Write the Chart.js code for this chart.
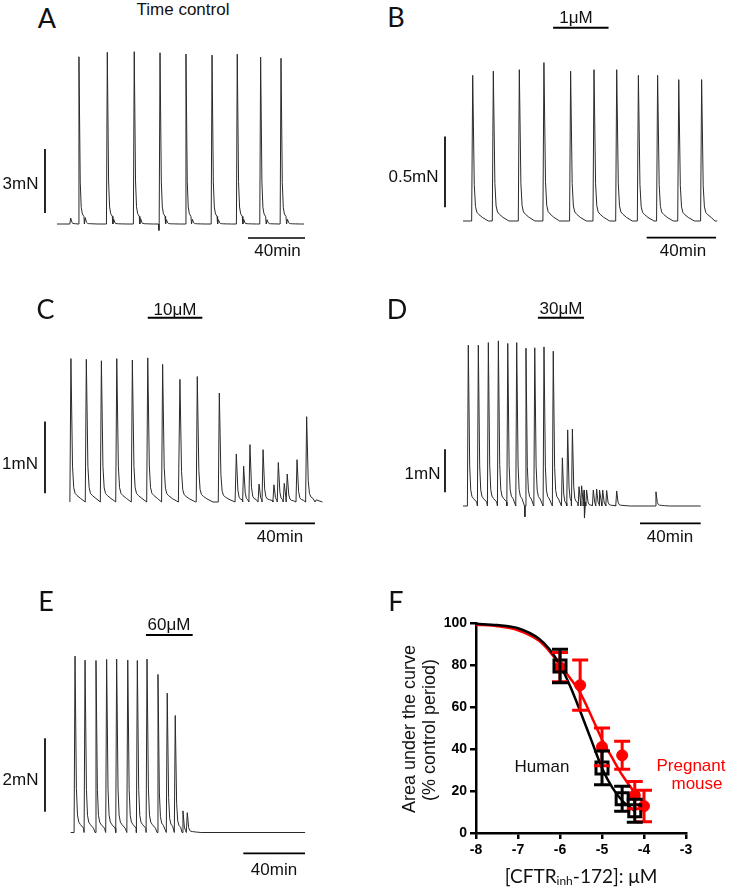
<!DOCTYPE html>
<html><head><meta charset="utf-8">
<script src="https://cdn.jsdelivr.net/npm/chart.js@4.4.1/dist/chart.umd.min.js"></script>
<style>
html,body{margin:0;padding:0;background:#fff;}
#fig{position:relative;width:733px;height:889px;overflow:hidden;background:#fff;}
.box{position:absolute;}
.t{position:absolute;white-space:nowrap;transform:translate(-50%,-50%);line-height:1;font-family:"Liberation Sans",Arial,sans-serif;font-size:17px;font-weight:400;color:#111;}
.L{font-family:Lato,"Open Sans",sans-serif;font-size:27px;}
.r{transform:translate(-50%,-50%) rotate(-90deg);font-size:18px;}
.red{color:#ff0000;}
sub{font-size:12px;vertical-align:-2px;line-height:0;}
</style></head><body><div id="fig"></div>
<script>
// ================= DATA =================
// Contraction traces: peak times (min from trace start) and peak amplitudes (mN above baseline)
const peakTimesA = [15.4, 35.3, 54.2, 72.3, 90.5, 108.8, 126.5, 142.9, 157.2];
const peakAmpsA  = [7.84, 8.05, 8.08, 8.03, 7.97, 7.92, 7.96, 7.82, 7.77];
const minorTimesA = [9.6, 19.8, 39.8, 58.7, 76.8, 95.0, 113.3, 131.0, 147.4, 161.7];
const minorAmpsA  = [0.28, 0.3, 0.22, 0.25, 0.2, 0.22, 0.2, 0.22, 0.2, 0.22];
const endA = 173.3;
const dipTimesA = [71.5];
const dipValuesA = [-0.3];

const peakTimesB = [5.6, 17.5, 32.5, 46.7, 62.1, 75.6, 88.7, 101.2, 112.3, 124.5, 137.7];
const peakAmpsB  = [1.03, 1.06, 1.07, 1.12, 1.06, 1.07, 1.07, 1.03, 1.03, 1.00, 1.00];
const endB = 145.4;
const drugB = [52, 84];

const peakTimesC = [1.1, 9.9, 18.5, 27.3, 36.2, 45.0, 53.5, 63.4, 73.3, 85.9, 95.6, 99.8, 103.4, 108.6, 110.9, 117.1, 119.6, 123.0, 124.7, 130.3, 135.8];
const peakAmpsC  = [2.0, 1.99, 1.97, 2.0, 1.98, 2.01, 1.92, 1.71, 1.75, 1.52, 0.67, 0.50, 0.80, 0.25, 0.73, 0.24, 0.55, 0.26, 0.39, 0.59, 1.19];
const endC = 140.6;
const drugC = [45, 76.2];

const peakTimesD = [3.5, 10.1, 16.7, 23.3, 29.5, 35.4, 41.5, 47.3, 53.4, 59.5, 65.5, 69.0, 72.1, 76.5, 78.2, 79.8, 81.5, 85.9, 88.1, 90.3, 92.1, 94.7, 101.3, 127.2];
const peakAmpsD  = [3.74, 3.74, 3.80, 3.84, 3.78, 3.80, 3.67, 3.68, 3.70, 3.60, 1.12, 1.77, 1.79, 0.45, 0.47, 0.37, 0.37, 0.37, 0.39, 0.37, 0.37, 0.36, 0.35, 0.33];
const endD = 156.7;
const drugD = [49.4, 79.8];
const dipTimesD = [40.8, 80.2];
const dipValuesD = [-0.25, -0.28];

const peakTimesE = [2.8, 9.3, 16.4, 23.3, 29.8, 37.0, 43.2, 49.5, 56.6, 62.6, 67.8, 72.8, 75.6];
const peakAmpsE  = [4.81, 4.70, 4.69, 4.72, 4.73, 4.70, 4.69, 4.73, 4.31, 3.80, 3.19, 0.59, 0.54];
const endE = 152;
const drugE = [48.8, 79.1];

// Scale bars
const forceBarA = 3, forceBarB = 0.5, forceBarC = 1, forceBarD = 1, forceBarE = 2; // mN
const timeBar = 40; // min

// Shape of a single contraction (offset in min from the peak, fraction of the peak)
const pulseOffsets = [-0.6, 0, 0.9, 1.6, 2.4, 3.5, 5.5, 9];
const pulseShape   = [0, 1, 0.25, 0.1, 0.06, 0.045, 0.025, 0];

// Panel F: concentration-response (log M)
const humanX   = [-6, -5, -4.52, -4.22];
const humanY   = [79.5, 31, 16.3, 10.6];
const humanSEM = [8, 8, 6, 5.5];
const mouseX   = [-6, -5.52, -5, -4.52, -4.22, -4];
const mouseY   = [79, 70.4, 41, 37, 18, 12.8];
const mouseSEM = [7, 12, 9, 6.7, 6.5, 7.5];
const humanCurveX = [-8, -7.5, -7, -6.5, -6.25, -6, -5.75, -5.5, -5.25, -5, -4.75, -4.5, -4.22];
const humanCurveY = [99.6, 99, 97.5, 92.5, 87.5, 80, 69.5, 57, 44, 31, 21.5, 15, 10.5];
const mouseCurveX = [-8, -7.5, -7, -6.5, -6.25, -6, -5.75, -5.5, -5.25, -5, -4.75, -4.5, -4.25, -4];
const mouseCurveY = [99.2, 98.5, 96.5, 91.5, 86.5, 80, 73.5, 66, 55.5, 44.5, 35.5, 27, 20, 14];
const xTicksF = [-8, -7, -6, -5, -4, -3];
const yTicksF = [0, 20, 40, 60, 80, 100];

// ================= LAYOUT =================
const fig = document.getElementById('fig');
const layout = {
  A:{box:[30,40,290,215], t0px:57, pxPerMin:1.425, y0px:224, pxPerUnit:21.33, vbar:{x:45,bottom:213}, hbar:{right:305,y:238}},
  B:{box:[430,15,300,240], t0px:463, pxPerMin:1.733, y0px:221, pxPerUnit:141.4, vbar:{x:445,bottom:207.3}, hbar:{right:716,y:237.7}, drugY:27.7},
  C:{box:[30,305,295,230], t0px:69, pxPerMin:1.75, y0px:502, pxPerUnit:71.7, vbar:{x:45,bottom:493.3}, hbar:{right:315,y:523.3}, drugY:317.7},
  D:{box:[430,305,290,230], t0px:463, pxPerMin:1.517, y0px:506, pxPerUnit:43, vbar:{x:445,bottom:492.3}, hbar:{right:700.7,y:523.3}, drugY:317.7},
  E:{box:[30,620,290,245], t0px:70.7, pxPerMin:1.542, y0px:832.5, pxPerUnit:36.67, vbar:{x:45,bottom:811.7}, hbar:{right:305,y:853.3}, drugY:635}
};

function makeBox(b){
  const d=document.createElement('div'); d.className='box';
  d.style.left=b[0]+'px'; d.style.top=b[1]+'px'; d.style.width=b[2]+'px'; d.style.height=b[3]+'px';
  const c=document.createElement('canvas'); d.appendChild(c); fig.appendChild(d); return c;
}

function buildTrace(t0, a0, tEnd, dipT, dipV, minT, minA){
  // merge main and minor contractions in time order
  const ev=t0.map((t,i)=>({t:t,a:a0[i]}));
  (minT||[]).forEach((t,i)=>ev.push({t:t,a:minA[i]}));
  ev.sort((p,q)=>p.t-q.t);
  const pts=[];
  for(let i=0;i<ev.length;i++){
    const limit = i<ev.length-1 ? ev[i+1].t+pulseOffsets[0] : Infinity;
    for(let k=0;k<pulseOffsets.length;k++){
      const t=ev[i].t+pulseOffsets[k];
      if(t<0) continue;
      if(t>=limit) break;
      pts.push({x:t,y:ev[i].a*pulseShape[k]});
    }
  }
  if(pts[0].x>0.8) pts.unshift({x:0,y:0});
  pts.push({x:tEnd,y:0});
  (dipT||[]).forEach((t,i)=>{pts.push({x:t-0.25,y:0}); pts.push({x:t,y:dipV[i]});});
  pts.sort((a,b)=>a.x-b.x);
  return pts;
}

const barsPlugin = {
  id:'bars',
  afterDatasetsDraw(chart, args, o){
    const ctx=chart.ctx, x=chart.scales.x, y=chart.scales.y;
    const L=o.lay.box[0], T=o.lay.box[1];
    ctx.save(); ctx.strokeStyle='#000'; ctx.lineCap='butt';
    const vlen = y.getPixelForValue(0) - y.getPixelForValue(o.force);
    ctx.lineWidth=1.7; ctx.beginPath();
    ctx.moveTo(o.lay.vbar.x-L, o.lay.vbar.bottom-T); ctx.lineTo(o.lay.vbar.x-L, o.lay.vbar.bottom-T-vlen); ctx.stroke();
    const hlen = x.getPixelForValue(o.time) - x.getPixelForValue(0);
    ctx.beginPath(); ctx.moveTo(o.lay.hbar.right-L-hlen, o.lay.hbar.y-T); ctx.lineTo(o.lay.hbar.right-L, o.lay.hbar.y-T); ctx.stroke();
    if(o.drug){
      ctx.lineWidth=2; ctx.beginPath();
      ctx.moveTo(x.getPixelForValue(o.drug[0]), o.lay.drugY-T); ctx.lineTo(x.getPixelForValue(o.drug[1]), o.lay.drugY-T); ctx.stroke();
    }
    ctx.restore();
  }
};

function tracePanel(lay, times, amps, tEnd, force, drug, dipT, dipV, minT, minA){
  const [L,T,W,H]=lay.box;
  const xmin=-(lay.t0px-L)/lay.pxPerMin, xmax=(L+W-lay.t0px)/lay.pxPerMin;
  const ymin=-(T+H-lay.y0px)/lay.pxPerUnit, ymax=(lay.y0px-T)/lay.pxPerUnit;
  new Chart(makeBox(lay.box), {
    type:'line',
    data:{datasets:[{data:buildTrace(times,amps,tEnd,dipT,dipV,minT,minA), borderColor:'#2a2a2a', borderWidth:1, pointRadius:0, tension:0, fill:false}]},
    options:{
      responsive:true, maintainAspectRatio:false, animation:false, events:[],
      layout:{padding:0},
      plugins:{legend:{display:false}, tooltip:{enabled:false},
        bars:{lay:lay, force:force, time:timeBar, drug:drug}},
      scales:{x:{type:'linear',display:false,min:xmin,max:xmax}, y:{display:false,min:ymin,max:ymax}}
    },
    plugins:[barsPlugin]
  });
}

tracePanel(layout.A, peakTimesA, peakAmpsA, endA, forceBarA, null, dipTimesA, dipValuesA, minorTimesA, minorAmpsA);
tracePanel(layout.B, peakTimesB, peakAmpsB, endB, forceBarB, drugB);
tracePanel(layout.C, peakTimesC, peakAmpsC, endC, forceBarC, drugC);
tracePanel(layout.D, peakTimesD, peakAmpsD, endD, forceBarD, drugD, dipTimesD, dipValuesD);
tracePanel(layout.E, peakTimesE, peakAmpsE, endE, forceBarE, drugE);

// ---------- Panel F ----------
const RED='#ff0000';
const errPlugin = {
  id:'errbars',
  afterDatasetsDraw(chart){
    const ctx=chart.ctx, x=chart.scales.x, y=chart.scales.y;
    const draw=(xs,ys,es,col)=>{
      ctx.save(); ctx.strokeStyle=col; ctx.lineWidth=3; ctx.lineCap='butt';
      xs.forEach((v,i)=>{
        const px=x.getPixelForValue(v), pt=y.getPixelForValue(ys[i]+es[i]), pb=y.getPixelForValue(ys[i]-es[i]);
        ctx.beginPath(); ctx.moveTo(px,pt); ctx.lineTo(px,pb);
        ctx.moveTo(px-8,pt); ctx.lineTo(px+8,pt); ctx.moveTo(px-8,pb); ctx.lineTo(px+8,pb); ctx.stroke();
      });
      ctx.restore();
    };
    draw(mouseX,mouseY,mouseSEM,RED);
    draw(humanX,humanY,humanSEM,'#000');
  }
};
const pts=(xs,ys)=>xs.map((v,i)=>({x:v,y:ys[i]}));
const tickFont={family:'"Liberation Sans", Arial, sans-serif', size:14, weight:'bold'};
new Chart(makeBox([380,600,353,289]), {
  type:'scatter',
  data:{datasets:[
    {data:pts(humanX,humanY), pointStyle:'rect', pointRadius:8.5, backgroundColor:'rgba(0,0,0,0)', borderColor:'#000', borderWidth:3, showLine:false, clip:false},
    {data:pts(mouseX,mouseY), pointStyle:'circle', pointRadius:5.5, backgroundColor:RED, borderColor:RED, borderWidth:1, showLine:false, clip:false},
    {type:'line', data:pts(humanCurveX,humanCurveY), borderColor:'#000', borderWidth:2.5, pointRadius:0, cubicInterpolationMode:'monotone', fill:false, clip:false},
    {type:'line', data:pts(mouseCurveX,mouseCurveY), borderColor:RED, borderWidth:2.5, pointRadius:0, cubicInterpolationMode:'monotone', fill:false, clip:false}
  ]},
  options:{
    responsive:true, maintainAspectRatio:false, animation:false, events:[],
    layout:{padding:{left:56, top:23, right:47, bottom:31}},
    plugins:{legend:{display:false}, tooltip:{enabled:false}},
    scales:{
      x:{type:'linear', min:-8, max:-3,
        afterBuildTicks:(s)=>{s.ticks=xTicksF.map(v=>({value:v}));},
        afterFit:(s)=>{s.height=25;},
        ticks:{color:'#000', font:tickFont, padding:3, maxRotation:0},
        grid:{display:true, drawOnChartArea:false, drawTicks:true, tickLength:6, color:'#000', lineWidth:2.5},
        border:{display:true, color:'#000', width:2.5}},
      y:{type:'linear', min:0, max:100,
        afterBuildTicks:(s)=>{s.ticks=yTicksF.map(v=>({value:v}));},
        afterFit:(s)=>{s.width=40;},
        ticks:{color:'#000', font:tickFont, padding:3},
        grid:{display:true, drawOnChartArea:false, drawTicks:true, tickLength:6, color:'#000', lineWidth:2.5},
        border:{display:true, color:'#000', width:2.5}}
    }
  },
  plugins:[errPlugin]
});

// ================= TEXT =================
const texts = [
  ['A',47,17,'L'], ['Time control',183,8.5,''], ['3mN',20.5,183,''], ['40min',277.5,250,''],
  ['B',396,16,'L'], ['1μM',576,16.5,''], ['0.5mN',413.5,176,''], ['40min',683,250,''],
  ['C',45.5,307.5,'L'], ['10μM',175,308.5,''], ['1mN',20,463,''], ['40min',280,536,''],
  ['D',397,307.5,'L'], ['30μM',561,307.5,''], ['1mN',422.5,473,''], ['40min',670,536,''],
  ['E',46,600,'L'], ['60μM',169,624,''], ['2mN',20.5,779,''], ['40min',274,868.5,''],
  ['F',396,599.5,'L'],
  ['Human',542,766,''], ['Pregnant',691,765,'red'], ['mouse',697,783,'red'],
  ['Area under the curve',409,729,'r'], ['(% control period)',428.5,730,'r']
];
texts.forEach(([s,x,y,c])=>{
  const d=document.createElement('div'); d.className='t '+c; d.textContent=s;
  d.style.left=x+'px'; d.style.top=y+'px'; fig.appendChild(d);
});
const xt=document.createElement('div'); xt.className='t';
xt.style.left='581px'; xt.style.top='875px'; xt.style.fontFamily='Lato,"Open Sans",sans-serif'; xt.style.fontSize='19px';
xt.innerHTML='[CFTR<sub>inh</sub>-172]: μM';
fig.appendChild(xt);
</script>
</body></html>
